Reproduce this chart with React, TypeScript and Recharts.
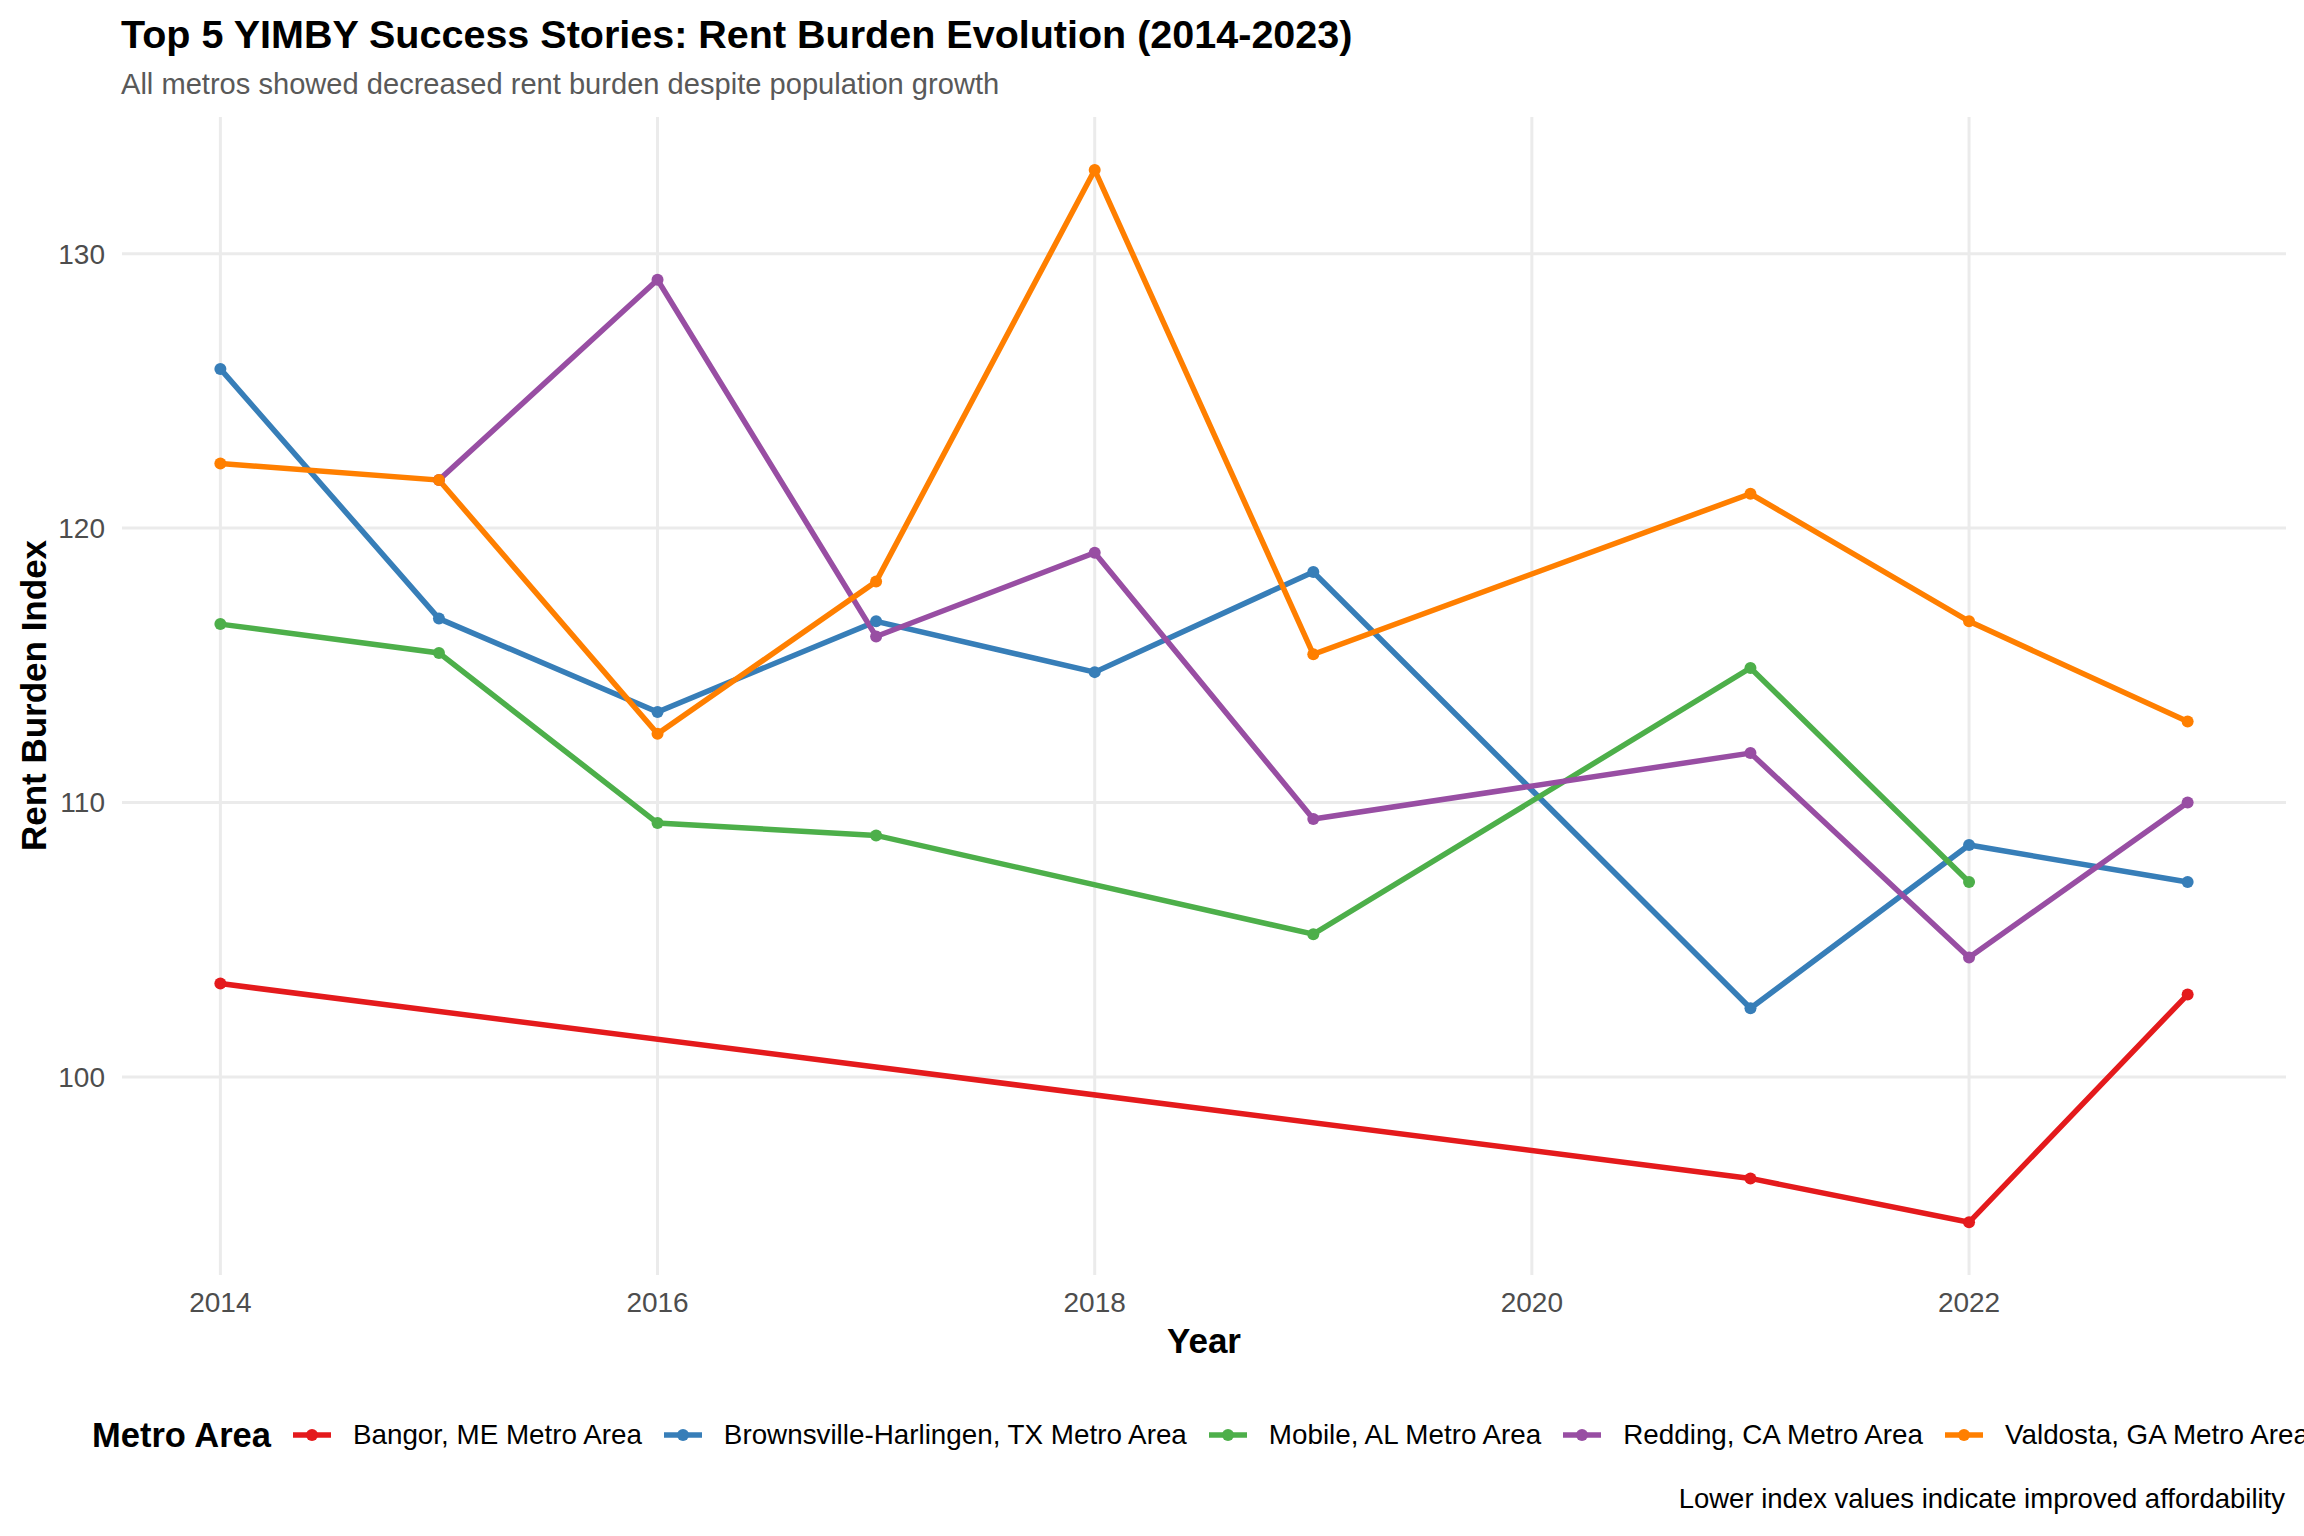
import React from 'react'
import { CartesianGrid, Line, LineChart, XAxis, YAxis } from 'recharts'

// values, null = year missing for that metro
const years = [2014, 2015, 2016, 2017, 2018, 2019, 2020, 2021, 2022, 2023]
const bangor = [103.4, null, null, null, null, null, null, 96.3, 94.7, 103.0]
const brownsville = [125.8, 116.7, 113.3, 116.6, 114.75, 118.4, null, 102.5, 108.45, 107.1]
const mobile = [116.5, 115.45, 109.25, 108.8, null, 105.2, null, 114.9, 107.1, null]
const redding = [null, 121.75, 129.05, 116.05, 119.1, 109.4, null, 111.8, 104.35, 110.0]
const valdosta = [122.35, 121.75, 112.5, 118.05, 133.05, 115.4, null, 121.25, 116.6, 112.95]

const xTicks = [2014, 2016, 2018, 2020, 2022]
const yTicks = [100, 110, 120, 130]

const series = [
  { key: 'bangor', name: 'Bangor, ME Metro Area', color: '#E41A1C' },
  { key: 'brownsville', name: 'Brownsville-Harlingen, TX Metro Area', color: '#377EB8' },
  { key: 'mobile', name: 'Mobile, AL Metro Area', color: '#4DAF4A' },
  { key: 'redding', name: 'Redding, CA Metro Area', color: '#984EA3' },
  { key: 'valdosta', name: 'Valdosta, GA Metro Area', color: '#FF7F00' },
]

const data = years.map((year, i) => ({
  year,
  bangor: bangor[i],
  brownsville: brownsville[i],
  mobile: mobile[i],
  redding: redding[i],
  valdosta: valdosta[i],
}))

const font = '"Liberation Sans", Arial, Helvetica, sans-serif'
const lineW = 5.5
const dotR = 6

const LegendKey = ({ color }: { color: string }) => (
  <svg width={38} height={30} style={{ display: 'block' }}>
    <line x1={0} y1={15} x2={38} y2={15} stroke={color} strokeWidth={lineW} />
    <circle cx={19} cy={15} r={dotR} fill={color} />
  </svg>
)

export default function App() {
  return (
    <div
      style={{
        position: 'absolute',
        left: 0,
        top: 0,
        width: 2304,
        height: 1536,
        overflow: 'hidden',
        background: '#fff',
        fontFamily: font,
      }}
    >
      <div style={{ position: 'absolute', left: 121, top: 15, fontSize: 39.5, lineHeight: '39.5px', fontWeight: 700, color: '#000', whiteSpace: 'nowrap' }}>
        Top 5 YIMBY Success Stories: Rent Burden Evolution (2014-2023)
      </div>
      <div style={{ position: 'absolute', left: 121, top: 70, fontSize: 29.1, lineHeight: '29px', color: '#595959', whiteSpace: 'nowrap' }}>
        All metros showed decreased rent burden despite population growth
      </div>

      <LineChart
        width={2304}
        height={1536}
        data={data}
        margin={{ top: 117, right: 18, left: 0, bottom: 201 }}
        style={{ position: 'absolute', left: 0, top: 0 }}
      >
        <CartesianGrid stroke="#EBEBEB" strokeWidth={3} syncWithTicks />
        <XAxis
          dataKey="year"
          type="number"
          domain={[2013.55, 2023.45]}
          allowDataOverflow
          ticks={xTicks}
          height={60}
          axisLine={false}
          tickLine={false}
          tickMargin={11}
          tick={{ fill: '#4D4D4D', fontSize: 28, fontFamily: font }}
        />
        <YAxis
          type="number"
          domain={[92.78, 134.98]}
          allowDataOverflow
          ticks={yTicks}
          width={122}
          axisLine={false}
          tickLine={false}
          tickMargin={11}
          tick={{ fill: '#4D4D4D', fontSize: 28, fontFamily: font }}
        />
        {series.map((s) => (
          <Line
            key={s.key}
            type="linear"
            dataKey={s.key}
            name={s.name}
            stroke={s.color}
            strokeWidth={lineW}
            connectNulls
            dot={{ r: dotR, fill: s.color, stroke: s.color, strokeWidth: 0 }}
            activeDot={false}
            isAnimationActive={false}
          />
        ))}
      </LineChart>

      <div style={{ position: 'absolute', left: 1004, top: 1323, width: 400, textAlign: 'center', fontSize: 35, lineHeight: '35px', fontWeight: 700, color: '#000' }}>
        Year
      </div>
      <div
        style={{
          position: 'absolute',
          left: 32.5 - 250,
          top: 695 - 17.5,
          width: 500,
          textAlign: 'center',
          fontSize: 35,
          lineHeight: '35px',
          fontWeight: 700,
          color: '#000',
          transform: 'rotate(-90deg)',
        }}
      >
        Rent Burden Index
      </div>

      {/* legend is centred on the panel in the original and runs past the right edge */}
      <div style={{ position: 'absolute', left: 92, top: 1410, height: 50, display: 'flex', alignItems: 'center', whiteSpace: 'nowrap' }}>
        <span style={{ fontSize: 34.5, fontWeight: 700, color: '#000', marginRight: 22 }}>Metro Area</span>
        {series.map((s) => (
          <div key={s.key} style={{ display: 'flex', alignItems: 'center', marginRight: 22 }}>
            <LegendKey color={s.color} />
            <span style={{ fontSize: 27.8, color: '#000', marginLeft: 22 }}>{s.name}</span>
          </div>
        ))}
      </div>

      <div style={{ position: 'absolute', right: 2304 - 2285, top: 1485, fontSize: 27.5, lineHeight: '27.5px', color: '#000', whiteSpace: 'nowrap' }}>
        Lower index values indicate improved affordability
      </div>
    </div>
  )
}
